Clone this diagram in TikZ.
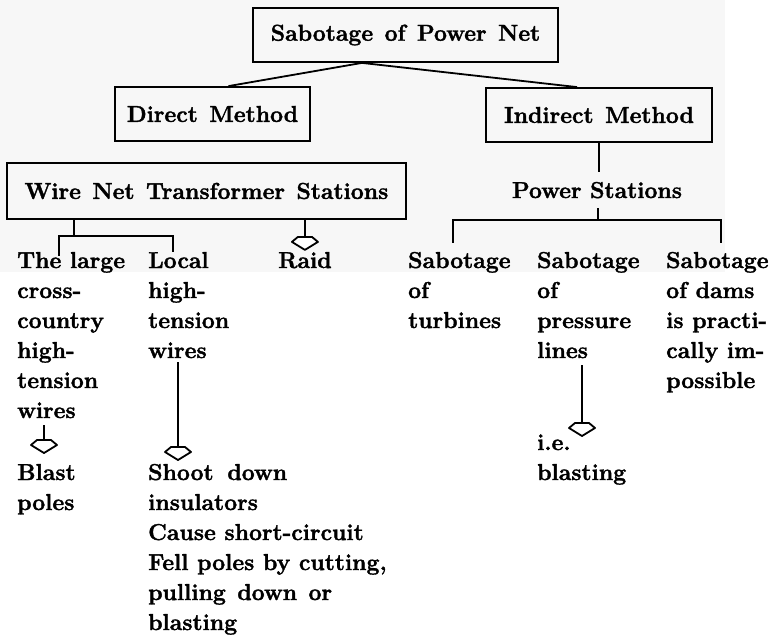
\documentclass[tikz,border=0pt]{standalone}
\usepackage{fontspec}
\setmainfont{Latin Modern Roman}[BoldFeatures={FakeBold=1.6}]
\usetikzlibrary{calc}
\newcommand\myboxfont{\fontsize{23}{30}\selectfont\bfseries\spaceskip=0.5em plus 0.1em\relax}
\begin{document}
\begin{tikzpicture}[x=1pt,y=-1pt,
  every node/.style={font=\fontsize{23}{30}\selectfont\bfseries},
  box/.style={draw,line width=1.8pt,inner sep=0pt,minimum height=54pt,font=\myboxfont},
  txt/.style={anchor=base west,align=left,inner sep=0pt},
  conn/.style={line width=1.8pt},
  openhead/.pic={\draw[line width=1.8pt,fill=white,line join=round]
     (-7,0) -- (7,0) -- (13,5) -- (0,13) -- (-13,5) -- cycle;}
  ]
\useasboundingbox (0,0) rectangle (773,634);
\fill[black!3] (0,0) rectangle (725,272);

% boxes
\node[box,minimum width=305pt] (top) at (405.5,35) {Sabotage of Power Net};
\node[box,minimum width=195pt] (direct) at (212.5,114) {Direct Method};
\node[box,minimum width=226pt] (indirect) at (599,115) {Indirect Method};
\node[box,minimum width=399pt,minimum height=56pt] (wire) at (206.5,191) {Wire Net Transformer Stations};
\node[anchor=base,inner sep=0pt] (power) at (597,198) {Power Stations};

% text columns (anchored at the baseline of their last line)
\node[txt] (col1) at (17,418) {The large\\cross-\\country\\high-\\tension\\wires};
\node[txt] (col2) at (148,358) {Local\\high-\\tension\\wires};
\node[txt] (raid) at (278,268) {Raid};
\node[txt] (col3) at (408,328) {Sabotage\\of\\turbines};
\node[txt] (col4) at (537,358) {Sabotage\\of\\pressure\\lines};
\node[txt] (col5) at (666,388) {Sabotage\\of dams\\is practi-\\cally im-\\possible};
\node[txt] (blast) at (17,510) {Blast\\poles};
\node[txt] (shoot) at (148,630) {Shoot\hspace{0.6em}down\\insulators\\Cause short-circuit\\Fell poles by cutting,\\pulling\hspace{0.5em}down\hspace{0.5em}or\\blasting};
\node[txt] (ie) at (537,480) {i.e.\\blasting};

% top connectors
\coordinate (apex) at ($(top.south)+(-43.5,0)$);
\draw[conn] (apex) -- ($(direct.north)+(16,0)$);
\draw[conn] (apex) -- ($(indirect.north)+(-22,0)$);

% wire net branches
\coordinate (bj) at (74,236);
\coordinate (l1) at (59,236);
\coordinate (l2) at (173,236);
\draw[conn] (wire.south -| bj) -- (bj);
\draw[conn] ([yshift=-4pt]l1 |- col1.north) -- (l1) -- (l2) -- (l2 |- col2.north);
\draw[conn] (wire.south -| raid.north) -- ++(0,17) coordinate (rh);
\pic at (rh) {openhead};

% arrows to results
\coordinate (h1) at (44,440);
\draw[conn] ([yshift=-7pt]col1.south -| h1) -- (h1);
\pic at (h1) {openhead};
\coordinate (h2) at (178,447);
\draw[conn] ([yshift=-4pt]col2.south -| h2) -- (h2);
\pic at (h2) {openhead};
\coordinate (h3) at (582,423);
\draw[conn] ([yshift=-7pt]col4.south -| h3) -- (h3);
\pic at (h3) {openhead};

% indirect branch
\draw[conn] (indirect.south) -- ([yshift=10pt]power.north -| indirect.south);
\coordinate (pj) at (598,220);
\coordinate (l3) at (453,220);
\coordinate (l4) at (721,220);
\draw[conn] ([yshift=-10pt]power.south -| pj) -- (pj);
\draw[conn] ([yshift=9pt]col3.north -| l3) -- (l3) -- (l4) -- ([yshift=9pt]col5.north -| l4);
\end{tikzpicture}
\end{document}
